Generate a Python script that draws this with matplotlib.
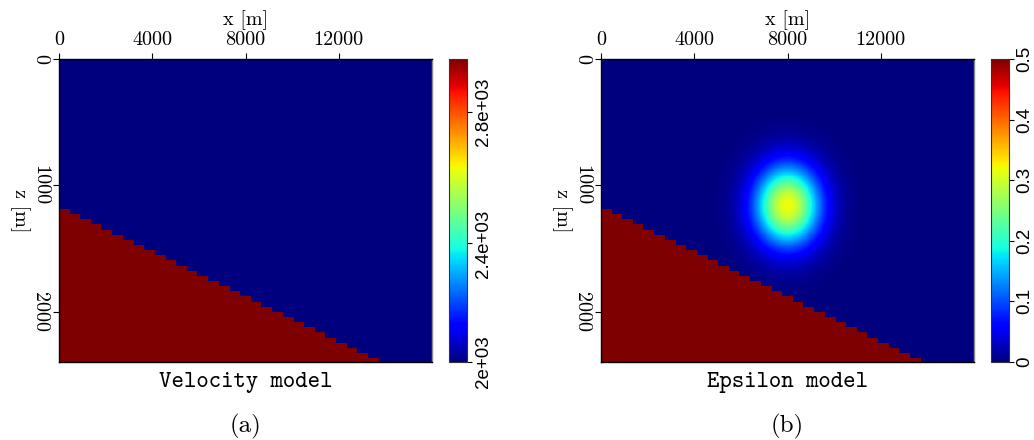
import numpy as np
import matplotlib.pyplot as plt

# model geometry [m]
x_max = 16000.0
z_max = 2400.0
n_cols = 35                      # lateral cells of the layered model
interface_x = [0.0, 16000.0]     # dipping interface end points
interface_z = [1170.0, 2595.0]

# property values
v_top = 2040.0
v_bottom = 2960.0
eps_top = 0.0
eps_bottom = 0.5

# gaussian epsilon anomaly
anomaly_x = 8000.0
anomaly_z = 1160.0
anomaly_sx = 980.0
anomaly_sz = 220.0
anomaly_peak = 0.32

x_ticks = [0, 4000, 8000, 12000]
z_ticks = [0, 1000, 2000]
v_ticks = [2040, 2400, 2800]
eps_ticks = [0, 0.1, 0.2, 0.3, 0.4, 0.5]

# fine sampling grid
dx, dz = 20.0, 5.0
xs = np.arange(dx / 2, x_max, dx)
zs = np.arange(dz / 2, z_max, dz)
X, Z = np.meshgrid(xs, zs)

cell_w = x_max / n_cols
col_centres = (np.arange(n_cols) + 0.5) * cell_w
col_depth = np.interp(col_centres, interface_x, interface_z)
col_of_x = np.minimum((xs // cell_w).astype(int), n_cols - 1)
below = Z >= col_depth[col_of_x][None, :]

velocity = np.where(below, v_bottom, v_top)
blob = anomaly_peak * np.exp(-0.5 * (((X - anomaly_x) / anomaly_sx) ** 2
                                     + ((Z - anomaly_z) / anomaly_sz) ** 2))
epsilon = np.where(below, eps_bottom, eps_top + blob)

W, H = 1034, 440
fig = plt.figure(figsize=(W / 100, H / 100), dpi=100)

ROMAN = 'cmr10'
TT = 'cmtt10'
SANS = 'Liberation Sans'


def draw_panel(left, cb_left, field, vmin, vmax, cticks, cfmt, title, tag):
    top, bottom = 59, 362
    ax = fig.add_axes([left / W, 1 - bottom / H, 373 / W, (bottom - top) / H])
    im = ax.imshow(field, cmap='jet', vmin=vmin, vmax=vmax,
                   extent=[0, x_max, z_max, 0], aspect='auto',
                   interpolation='nearest')
    ax.xaxis.tick_top()
    ax.xaxis.set_label_position('top')
    ax.set_xticks(x_ticks)
    ax.set_xticklabels([str(t) for t in x_ticks], fontfamily=ROMAN, fontsize=14.5)
    ax.set_yticks(z_ticks)
    ax.set_yticklabels([str(t) for t in z_ticks], fontfamily=ROMAN, fontsize=14.5,
                       rotation=-90, va='center')
    ax.tick_params(direction='out', length=4.3, width=0.8, pad=3)
    ax.set_xlabel('x [m]', fontfamily=ROMAN, fontsize=14.5)
    ax.xaxis.set_label_coords(0.5, 1 + 34 / 303)
    ax.set_ylabel('z [m]', fontfamily=ROMAN, fontsize=14.5, rotation=-90,
                  va='center', ha='center', rotation_mode='anchor')
    ax.yaxis.set_label_coords(-0.105, 0.5)
    for side, sp in ax.spines.items():
        sp.set_linewidth(1.0)
        sp.set_color('#888888' if side == 'right' else 'black')

    cax = fig.add_axes([cb_left / W, 1 - bottom / H, 18 / W, (bottom - top) / H])
    cb = fig.colorbar(im, cax=cax, ticks=cticks)
    cb.outline.set_linewidth(0.8)
    cb.outline.set_edgecolor('#333333')
    cax.set_yticklabels([cfmt % t for t in cticks])
    cax.tick_params(direction='out', length=3.5, width=0.8, pad=2)
    for lab in cax.get_yticklabels():
        lab.set_fontfamily(SANS)
        lab.set_fontsize(13.5)
        lab.set_rotation(90)
        lab.set_va('center')
        lab.set_ha('left')

    cx = (left + 373 / 2) / W
    fig.text(cx, 1 - 382 / H, title, fontfamily=TT, fontsize=17,
             ha='center', va='center')
    fig.text(cx, 1 - 426 / H, tag, fontfamily=ROMAN, fontsize=18,
             ha='center', va='center')


draw_panel(59, 449, velocity, v_top, v_bottom, v_ticks, '%.2g',
           'Velocity model', '(a)')
draw_panel(601, 991, epsilon, 0.0, eps_bottom, eps_ticks, '%g',
           'Epsilon model', '(b)')

fig.savefig('out.png', dpi=100)
